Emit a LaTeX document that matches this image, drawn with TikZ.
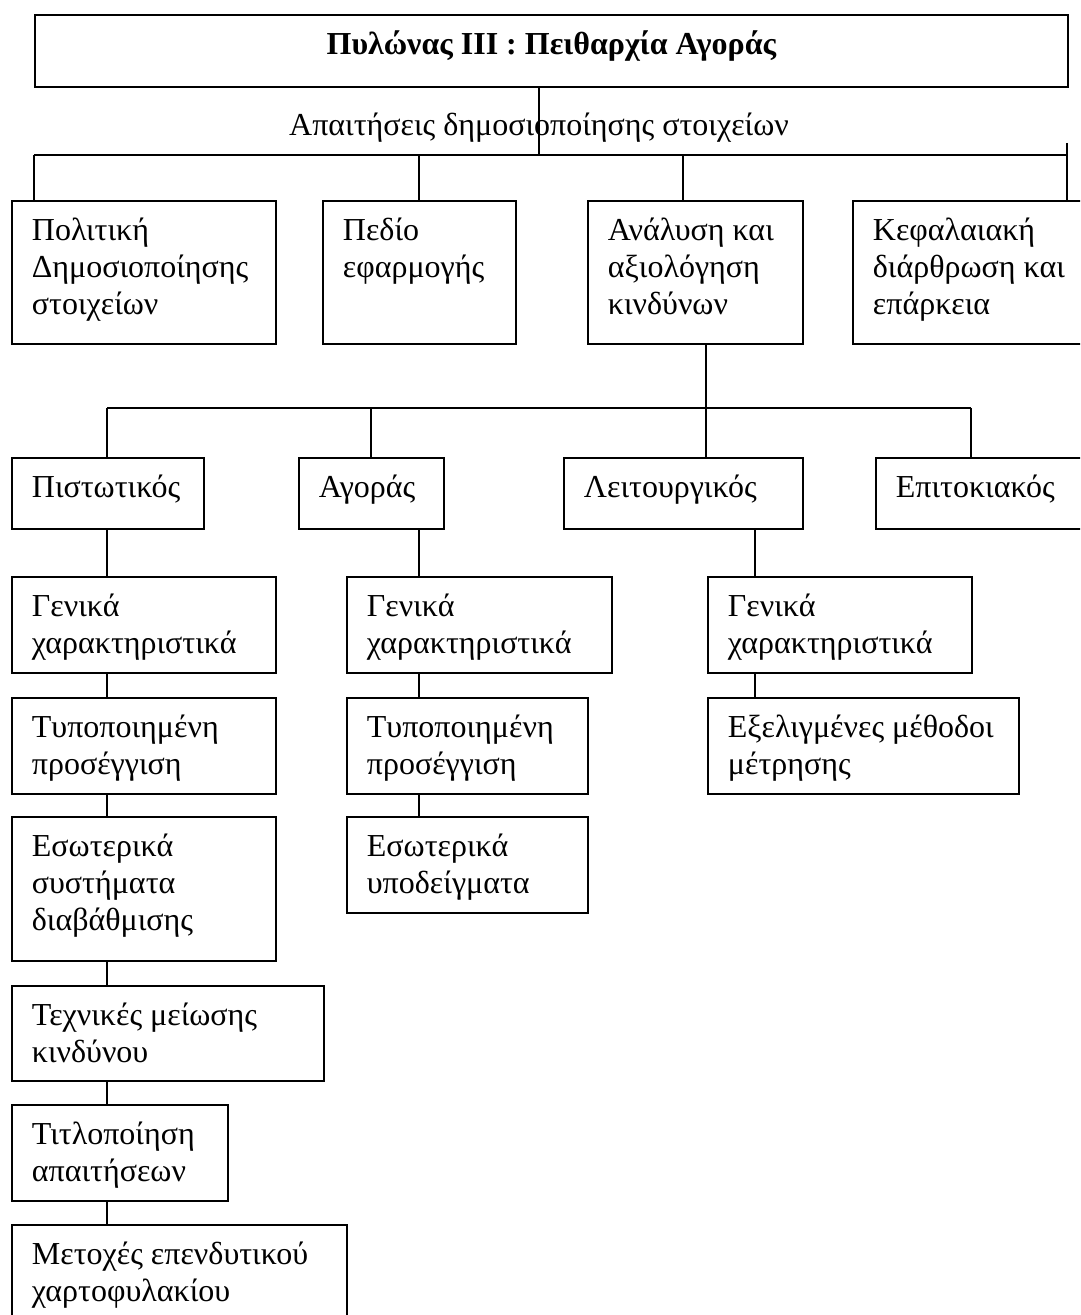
\documentclass[tikz,border=0pt]{standalone}
\usepackage{fontspec}
\setmainfont{Liberation Serif}
% box text: width and height in px, text set from the top left
\newcommand{\cellbox}[3]{\parbox[c][\dimexpr #2pt/2\relax][t]{\dimexpr #1pt/2\relax}{\raggedright\leftskip=10pt\rule{0pt}{20pt}#3}}
\begin{document}
\begin{tikzpicture}[x=0.5pt,y=-0.5pt,
  font=\fontsize{16}{18.5}\selectfont,
  cell/.style={draw,line width=0.9pt,inner sep=0pt,anchor=north west},
  link/.style={line width=0.9pt}]
\useasboundingbox (0,0) rectangle (1080,1315);
\clip (0,0) rectangle (1080,1315);
% title
\node[cell] (title) at (34,14) {\parbox[c][36pt][t]{516.5pt}{\centering\bfseries\rule{0pt}{20pt}Πυλώνας ΙΙΙ : Πειθαρχία Αγοράς}};
\node[anchor=base] (req) at (539,136) {Απαιτήσεις δημοσιοποίησης στοιχείων};
% first row
\node[cell] (pol) at (11,200) {\cellbox{264}{143}{Πολιτική\\Δημοσιοποίησης\\στοιχείων}};
\node[cell] (ped) at (322,200) {\cellbox{193}{143}{Πεδίο\\εφαρμογής}};
\node[cell] (ana) at (587,200) {\cellbox{215}{143}{Ανάλυση και\\αξιολόγηση\\κινδύνων}};
\node[cell] (kef) at (852,200) {\cellbox{240}{143}{Κεφαλαιακή\\διάρθρωση και\\επάρκεια}};
% kinds of risk
\node[cell] (pist) at (11,457) {\cellbox{192}{71}{Πιστωτικός}};
\node[cell] (agor) at (298,457) {\cellbox{145}{71}{Αγοράς}};
\node[cell] (leit) at (563,457) {\cellbox{239}{71}{Λειτουργικός}};
\node[cell] (epit) at (875,457) {\cellbox{220}{71}{Επιτοκιακός}};
% credit column
\node[cell] (genA) at (11,576) {\cellbox{264}{96}{Γενικά\\χαρακτηριστικά}};
\node[cell] (typA) at (11,697) {\cellbox{264}{96}{Τυποποιημένη\\προσέγγιση}};
\node[cell] (esoA) at (11,816) {\cellbox{264}{144}{Εσωτερικά\\συστήματα\\διαβάθμισης}};
\node[cell] (texA) at (11,985) {\cellbox{312}{95}{Τεχνικές μείωσης\\κινδύνου}};
\node[cell] (titA) at (11,1104) {\cellbox{216}{96}{Τιτλοποίηση\\απαιτήσεων}};
\node[cell] (metA) at (11,1224) {\cellbox{335}{110}{Μετοχές επενδυτικού\\χαρτοφυλακίου}};
% market column
\node[cell] (genB) at (346,576) {\cellbox{265}{96}{Γενικά\\χαρακτηριστικά}};
\node[cell] (typB) at (346,697) {\cellbox{241}{96}{Τυποποιημένη\\προσέγγιση}};
\node[cell] (esoB) at (346,816) {\cellbox{241}{96}{Εσωτερικά\\υποδείγματα}};
% operational column
\node[cell] (genC) at (707,576) {\cellbox{264}{96}{Γενικά\\χαρακτηριστικά}};
\node[cell] (exeC) at (707,697) {\cellbox{311}{96}{Εξελιγμένες μέθοδοι\\μέτρησης}};
% bus lines
\coordinate (busL) at (34,155);
\coordinate (busM) at (539,155);
\coordinate (busR) at (1067,143);
\coordinate (dPed) at (419,155);
\coordinate (dAna) at (683,155);
\coordinate (riskL) at (107,408);
\coordinate (riskA) at (371,408);
\coordinate (riskM) at (706,408);
\coordinate (riskR) at (971,408);
\coordinate (colA) at (107,0);
\coordinate (colB) at (419,0);
\coordinate (colC) at (755,0);
\draw[link] (title.south -| busM) -- (busM);
\draw[link] (busL) -- (busL -| busR);
\draw[link] (busR) -- (kef.north -| busR);
\draw[link] (busL) -- (pol.north -| busL);
\draw[link] (dPed) -- (ped.north -| dPed);
\draw[link] (dAna) -- (ana.north -| dAna);
\draw[link] (ana.south -| riskM) -- (riskM);
\draw[link] (riskL) -- (riskR);
\foreach \c/\n in {riskL/pist,riskA/agor,riskM/leit,riskR/epit}
  \draw[link] (\c) -- (\n.north -| \c);
\draw[link] (pist.south -| colA) -- (genA.north -| colA);
\draw[link] (agor.south -| colB) -- (genB.north -| colB);
\draw[link] (leit.south -| colC) -- (genC.north -| colC);
\foreach \a/\b in {genA/typA,typA/esoA,esoA/texA,texA/titA,titA/metA}
  \draw[link] (\a.south -| colA) -- (\b.north -| colA);
\foreach \a/\b in {genB/typB,typB/esoB}
  \draw[link] (\a.south -| colB) -- (\b.north -| colB);
\draw[link] (genC.south -| colC) -- (exeC.north -| colC);
\end{tikzpicture}
\end{document}
